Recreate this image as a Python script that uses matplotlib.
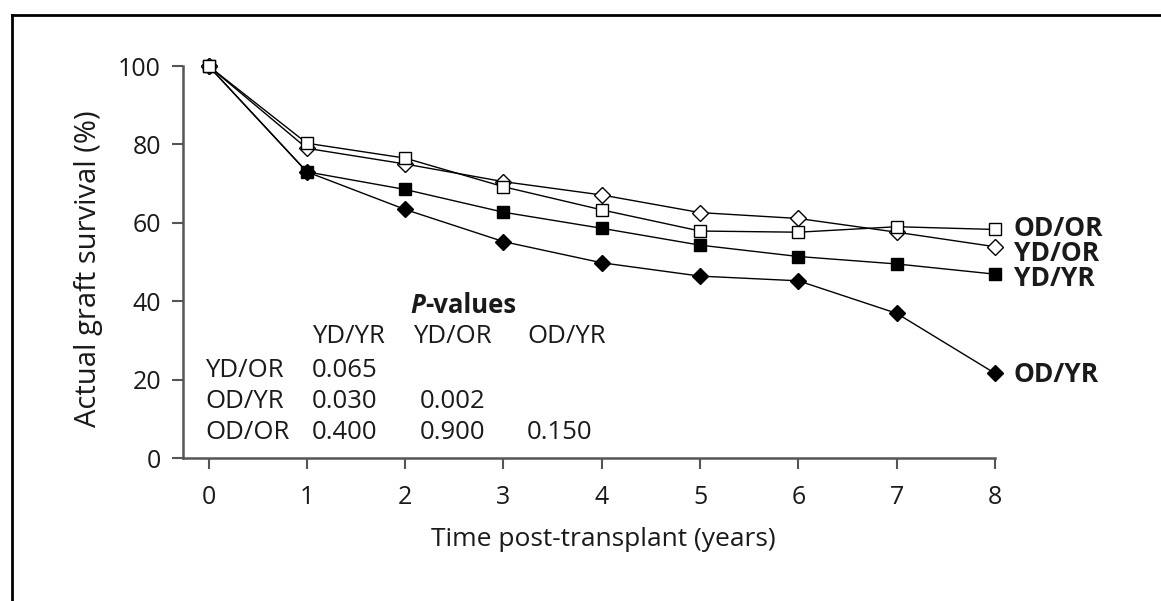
import matplotlib
matplotlib.use("Agg")
import matplotlib.pyplot as plt
from matplotlib.lines import Line2D

plt.rcParams['font.family'] = ['Open Sans', 'DejaVu Sans']

years = [0, 1, 2, 3, 4, 5, 6, 7, 8]
od_or = [100, 80.3, 76.5, 69.2, 63.3, 57.9, 57.6, 59.0, 58.3]
yd_or = [100, 79.0, 75.0, 70.5, 67.1, 62.6, 61.1, 57.6, 53.9]
yd_yr = [100, 73.0, 68.5, 62.7, 58.6, 54.3, 51.4, 49.5, 46.9]
od_yr = [100, 73.0, 63.4, 55.2, 49.8, 46.4, 45.2, 36.9, 21.6]

series_labels = ["OD/OR", "YD/OR", "YD/YR", "OD/YR"]
label_y = [56.6, 50.3, 43.8, 19.4]

pv_cols = ["YD/YR", "YD/OR", "OD/YR"]
pv_rows = ["YD/OR", "OD/YR", "OD/OR"]
pv_vals = [["0.065", "", ""],
           ["0.030", "0.002", ""],
           ["0.400", "0.900", "0.150"]]

W, H = 1161, 601
fig = plt.figure(figsize=(W / 100, H / 100), dpi=100)
fig.patch.set_facecolor('white')

ax = fig.add_axes([183 / W, 1 - 458 / H, (995 - 183) / W, (458 - 66) / H])
ax.set_xlim(-0.26, 8)
ax.set_ylim(0, 100)

txt = '#1a1a1a'
lw = 1.0
ax.plot(years, od_yr, color='black', lw=lw, marker='D', ms=8.5, mfc='black', mec='black', clip_on=False, zorder=3)
ax.plot(years, yd_yr, color='black', lw=lw, marker='s', ms=9, mfc='black', mec='black', clip_on=False, zorder=4)
ax.plot(years, yd_or, color='black', lw=lw, marker='D', ms=8.5, mfc='white', mec='black', mew=1.0, clip_on=False, zorder=5)
ax.plot(years, od_or, color='black', lw=lw, marker='s', ms=9, mfc='white', mec='black', mew=1.0, clip_on=False, zorder=6)

for lab, yy in zip(series_labels, label_y):
    ax.text(8.19, yy, lab, fontsize=19, fontweight='bold', color=txt, va='baseline', ha='left', clip_on=False)

for s in ['top', 'right']:
    ax.spines[s].set_visible(False)
for s in ['left', 'bottom']:
    ax.spines[s].set_color('#555555')
    ax.spines[s].set_linewidth(1.8)

ax.set_xticks(years)
ax.set_yticks([0, 20, 40, 60, 80, 100])
ax.tick_params(direction='out', length=7.8, width=1.5, color='#555555', labelsize=18, labelcolor=txt)
ax.tick_params(axis='x', pad=12)
ax.tick_params(axis='y', pad=8)

# P-values table
tfs = 18.5
pt = ax.text(2.05, 36.9, "P", fontsize=tfs, fontweight='bold', fontstyle='italic', color=txt, va='baseline', ha='left')
ax.annotate("-values", xy=(1, 0), xycoords=pt, fontsize=tfs, fontweight='bold', color=txt, va='bottom', ha='left')

col_x = [1.05, 2.08, 3.24]
val_x = [1.05, 2.15, 3.24]
for cx, c in zip(col_x, pv_cols):
    ax.text(cx, 29.3, c, fontsize=tfs, color=txt, va='baseline', ha='left')
row_y = [20.7, 12.7, 4.8]
for ry, r, vals in zip(row_y, pv_rows, pv_vals):
    ax.text(-0.036, ry, r, fontsize=tfs, color=txt, va='baseline', ha='left')
    for vx, v in zip(val_x, vals):
        if v:
            ax.text(vx, ry, v, fontsize=tfs, color=txt, va='baseline', ha='left')

fig.text(603.5 / W, 1 - 546 / H, "Time post-transplant (years)", fontsize=19, color=txt, ha='center', va='baseline')
fig.text(96 / W, 1 - 269 / H, "Actual graft survival (%)", fontsize=21, color=txt, ha='center', va='baseline',
         rotation=90, rotation_mode='anchor')

# outer frame (top and left edges)
fig.add_artist(Line2D([12 / W, 1.0], [1 - 14.5 / H, 1 - 14.5 / H], transform=fig.transFigure, color='black', lw=2.0))
fig.add_artist(Line2D([12 / W, 12 / W], [0.0, 1 - 14.5 / H], transform=fig.transFigure, color='black', lw=2.0))

fig.savefig("out.png", dpi=100)
